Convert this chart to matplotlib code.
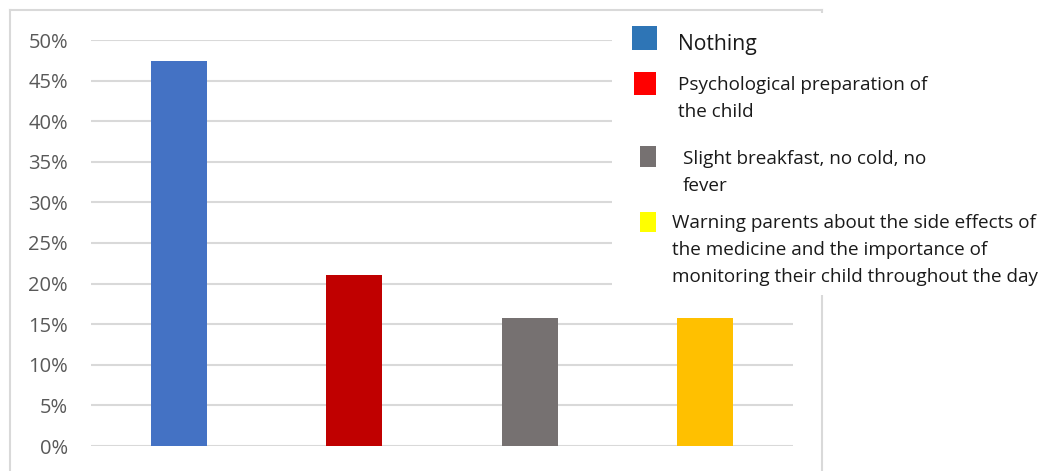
import matplotlib
matplotlib.use("Agg")
import matplotlib.pyplot as plt
from matplotlib.patches import Rectangle
from matplotlib.ticker import FuncFormatter

categories = ["Nothing", "Psychological preparation of\nthe child",
              "Slight breakfast, no cold, no\nfever",
              "Warning parents about the side effects of\nthe medicine and the importance of\nmonitoring their child throughout the day"]
values = [0.4737, 0.2105, 0.1579, 0.1579]
bar_colors = ["#4472C4", "#C00000", "#767171", "#FFC000"]
legend_colors = ["#2E75B6", "#FF0000", "#767171", "#FFFF00"]
yticks = [0, 0.05, 0.10, 0.15, 0.20, 0.25, 0.30, 0.35, 0.40, 0.45, 0.50]

W, H = 1046, 471
fig = plt.figure(figsize=(W / 100, H / 100), dpi=100)
fig.patch.set_facecolor("white")

def fx(px):
    return px / W

def fy(py):
    return 1 - py / H

# chart outer border
border_col = "#D9D9D9"
fig.add_artist(plt.Line2D([fx(10), fx(10)], [fy(10), 0], color=border_col, lw=1.5, zorder=0))
fig.add_artist(plt.Line2D([fx(10), fx(822)], [fy(10), fy(10)], color=border_col, lw=1.5, zorder=0))
fig.add_artist(plt.Line2D([fx(822), fx(822)], [fy(10), 0], color=border_col, lw=1.5, zorder=0))

ax = fig.add_axes([fx(91), fy(446), fx(793) - fx(91), (446 - 40) / H])
x = list(range(len(values)))
ax.bar(x, values, width=0.32, color=bar_colors, zorder=3)
ax.set_xlim(-0.5, len(values) - 0.5)
ax.set_ylim(0, 0.5)
ax.set_yticks(yticks)
ax.yaxis.set_major_formatter(FuncFormatter(lambda v, p: f"{v*100:.0f}%"))
ax.set_xticks([])
for s in ax.spines.values():
    s.set_visible(False)
ax.grid(axis="y", color=border_col, lw=1.5, zorder=0)
ax.tick_params(axis="y", length=0, pad=16.5, labelsize=14.5, labelcolor="#595959")
for lab in ax.get_yticklabels():
    lab.set_fontfamily("Open Sans")
ax.set_axisbelow(True)
ax.patch.set_alpha(0)

# legend (separate white box overlaying the chart)
fig.add_artist(Rectangle((fx(612), fy(295)), fx(1046) - fx(612), fy(13) - fy(295),
                         transform=fig.transFigure, facecolor="white", edgecolor="none", zorder=5))

sq = [(632, 26, 25, 24), (634, 72, 22, 23), (640, 146, 16, 21), (640, 212, 16, 20)]
txt_pos = [(678, 42), (678, 84), (683, 158), (672, 222)]
sizes = [15.2, 13.6, 13.6, 13.6]
for i, lab in enumerate(categories):
    x0, y0, w, h = sq[i]
    fig.add_artist(Rectangle((fx(x0), fy(y0 + h)), w / W, h / H, transform=fig.transFigure,
                             facecolor=legend_colors[i], edgecolor="none", zorder=6))
    tx, ty = txt_pos[i]
    fig.text(fx(tx), fy(ty - 8), lab, fontsize=sizes[i], family="Open Sans", color="#1a1a1a",
             va="top", ha="left", linespacing=1.66, zorder=7)

fig.savefig("out.png", dpi=100)
